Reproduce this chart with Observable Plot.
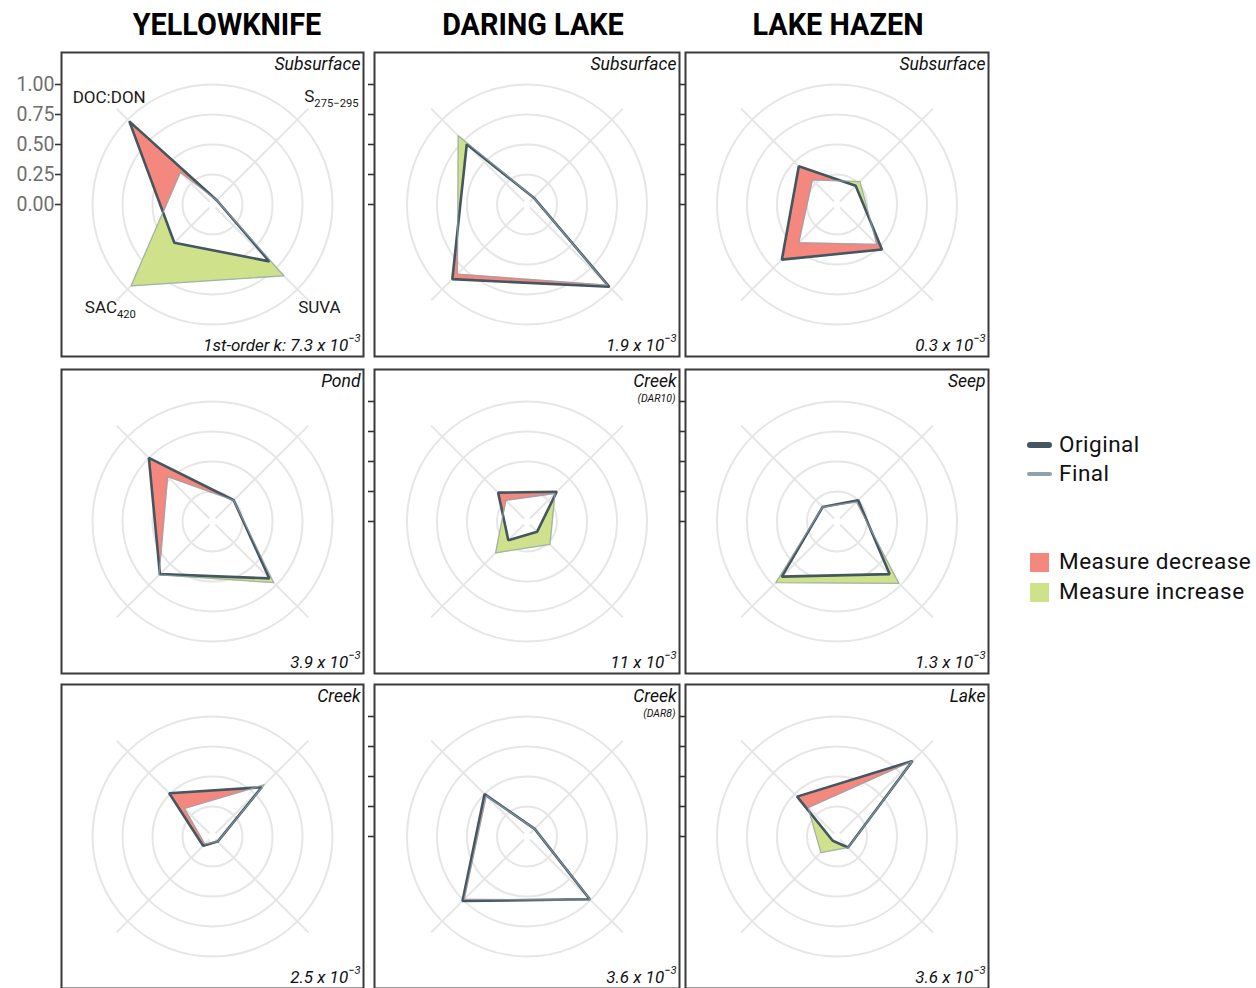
<!DOCTYPE html>
<html>
<head>
<meta charset="utf-8">
<script src="https://cdn.jsdelivr.net/npm/d3@7"></script>
<script src="https://cdn.jsdelivr.net/npm/@observablehq/plot@0.6"></script>
<style>
  html, body { margin: 0; padding: 0; background: #fff; }
  #root { position: relative; width: 1256px; height: 988px; overflow: hidden; font-family: Roboto, "Open Sans", sans-serif; color: #111; }
  .title { position: absolute; top: 6px; transform: translateX(-50%) scaleX(0.93); font: 700 31px Roboto, sans-serif; white-space: nowrap; color: #000; }
  .leg { position: absolute; font: 400 22.5px Roboto, sans-serif; white-space: nowrap; letter-spacing: 0.5px; color: #111; line-height: 1; }
  .sw { position: absolute; }
</style>
</head>
<body>
<div id="root"></div>
<script>
// ---------------- data ----------------
const sites = ["YELLOWKNIFE", "DARING LAKE", "LAKE HAZEN"];
const measures = ["DOC:DON", "S_{275-295}", "SUVA", "SAC_{420}"];
const radialTicks = [0, 0.25, 0.5, 0.75, 1];
const panelType = ["Subsurface", "Subsurface", "Subsurface", "Pond", "Creek", "Seep", "Creek", "Creek", "Lake"];
const panelSub = ["", "", "", "", "(DAR10)", "", "", "(DAR8)", ""];
const panelK = ["1st-order k: 7.3 x 10^{-3}", "1.9 x 10^{-3}", "0.3 x 10^{-3}",
                "3.9 x 10^{-3}", "11 x 10^{-3}", "1.3 x 10^{-3}",
                "2.5 x 10^{-3}", "3.6 x 10^{-3}", "3.6 x 10^{-3}"];
// values in order: DOC:DON, S275-295, SUVA, SAC420
const original = [
  [0.98, 0.05, 0.67, 0.45],
  [0.71, 0.08, 0.97, 0.88],
  [0.45, 0.22, 0.53, 0.65],
  [0.75, 0.25, 0.67, 0.62],
  [0.34, 0.35, 0.12, 0.22],
  [0.17, 0.25, 0.62, 0.65],
  [0.51, 0.58, 0.06, 0.11],
  [0.50, 0.09, 0.74, 0.76],
  [0.47, 0.89, 0.13, 0.05]
];
const final = [
  [0.38, 0.05, 0.84, 0.96],
  [0.81, 0.08, 0.95, 0.82],
  [0.29, 0.27, 0.47, 0.45],
  [0.53, 0.25, 0.72, 0.63],
  [0.25, 0.33, 0.27, 0.37],
  [0.17, 0.23, 0.73, 0.72],
  [0.33, 0.61, 0.06, 0.09],
  [0.48, 0.09, 0.75, 0.74],
  [0.34, 0.89, 0.13, 0.19]
];

// ---------------- styling / layout ----------------
const C = {
  original: "#44565f", final: "#8fa2ae",
  decrease: "#f4887e", increase: "#cfe28b",
  grid: "#e6e6e6", frame: "#3a3a3a"
};
const angles = [135, 45, -45, -135];
const labelNudge = [[0.03, 0], [0.1, 0.01], [0, 0.035], [0.04, 0.035]];
const ppu = 120; // pixels per unit radius
const colLeft = [61, 374, 685], colW = [302, 305, 303];
const rowTop = [52, 369, 684], rowH = 304;
const titleX = [227, 533, 838];

const polar = (r, a) => [r * Math.cos(a * Math.PI / 180), r * Math.sin(a * Math.PI / 180)];
function intersect(p1, p2, p3, p4) {
  const d = (p1[0] - p2[0]) * (p3[1] - p4[1]) - (p1[1] - p2[1]) * (p3[0] - p4[0]);
  const t = ((p1[0] - p3[0]) * (p3[1] - p4[1]) - (p1[1] - p3[1]) * (p3[0] - p4[0])) / d;
  return [p1[0] + t * (p2[0] - p1[0]), p1[1] + t * (p2[1] - p1[1])];
}
function ring(vals) {
  return vals.map((v, i) => { const [x, y] = polar(v, angles[i]); return {x, y}; });
}
function diffPolys(o, f) {
  const polys = [];
  for (let i = 0; i < 4; i++) {
    const j = (i + 1) % 4;
    const O0 = polar(o[i], angles[i]), O1 = polar(o[j], angles[j]);
    const F0 = polar(f[i], angles[i]), F1 = polar(f[j], angles[j]);
    const d0 = o[i] - f[i], d1 = o[j] - f[j];
    if (d0 * d1 < 0) {
      const X = intersect(O0, O1, F0, F1);
      polys.push({sign: d0, pts: [O0, X, F0]});
      polys.push({sign: d1, pts: [X, O1, F1]});
    } else if (d0 !== 0 || d1 !== 0) {
      polys.push({sign: d0 !== 0 ? d0 : d1, pts: [O0, O1, F1, F0]});
    }
  }
  return polys.flatMap((p, k) => p.pts.map(([x, y]) => ({id: k, x, y, kind: p.sign > 0 ? "decrease" : "increase"})));
}
function rich(svg) {
  d3.select(svg).selectAll("text").each(function () {
    const s = this.textContent;
    const m = s.match(/^(.*?)([_^])\{(.*)\}$/);
    if (!m) return;
    const t = d3.select(this);
    t.text(null);
    t.append("tspan").text(m[1]);
    t.append("tspan").attr("font-size", "0.66em")
      .attr("dy", m[2] === "^" ? "-0.75em" : "0.5em")
      .text(m[3].replace("-", "\u2212"));
  });
}

const root = document.getElementById("root");

sites.forEach((s, i) => {
  const d = document.createElement("div");
  d.className = "title"; d.textContent = s; d.style.left = titleX[i] + "px";
  root.appendChild(d);
});

for (let p = 0; p < 9; p++) {
  const col = p % 3, row = Math.floor(p / 3);
  const W = colW[col], H = rowH;
  const first = p === 0;
  const showTicks = !(col === 0 && row > 0);
  const mL = first ? 62 : 8;
  const xd = [-W / 2 / ppu, W / 2 / ppu], yd = [-H / 2 / ppu, H / 2 / ppu];
  const o = original[p], f = final[p];
  const diff = diffPolys(o, f);

  const marks = [];
  // grid circles
  for (const r of radialTicks.slice(1)) {
    marks.push(Plot.dot([r], {x: () => 0, y: () => 0, r: r * ppu, stroke: C.grid, strokeWidth: 2, fill: "none"}));
  }
  // spokes
  marks.push(Plot.link(angles, {
    x1: a => polar(0.035, a)[0], y1: a => polar(0.035, a)[1],
    x2: a => polar(1.13, a)[0], y2: a => polar(1.13, a)[1],
    stroke: C.grid, strokeWidth: 2
  }));
  // difference fills
  for (const kind of ["decrease", "increase"]) {
    marks.push(Plot.line(diff.filter(d => d.kind === kind), {
      x: "x", y: "y", z: "id", curve: "linear-closed",
      fill: C[kind], stroke: C[kind], strokeWidth: 0.8
    }));
  }
  // polygons: original underneath, final on top
  marks.push(Plot.line(ring(o), {x: "x", y: "y", curve: "linear-closed", stroke: C.original, strokeWidth: 2.6, strokeLinejoin: "miter"}));
  marks.push(Plot.line(ring(f), {x: "x", y: "y", curve: "linear-closed", stroke: C.final, strokeWidth: 1.3, strokeOpacity: 0.75, strokeLinejoin: "miter"}));
  // panel texts
  marks.push(Plot.text([panelType[p]], {frameAnchor: "top-right", dx: -3, dy: 5, lineAnchor: "top", text: d => d, fontStyle: "italic", fontSize: 17.5, fill: "#111"}));
  if (panelSub[p]) {
    marks.push(Plot.text([panelSub[p]], {frameAnchor: "top-right", dx: -4, dy: 25, lineAnchor: "top", text: d => d, fontStyle: "italic", fontSize: 10.5, fill: "#111"}));
  }
  marks.push(Plot.text([panelK[p]], {frameAnchor: "bottom-right", dx: -3, dy: -6, lineAnchor: "bottom", text: d => d, fontStyle: "italic", fontSize: 17, fill: "#111"}));
  // axis labels (first panel only)
  if (first) {
    marks.push(Plot.text(measures, {
      x: (d, i) => polar(1.26, angles[i])[0] + labelNudge[i][0],
      y: (d, i) => polar(1.26, angles[i])[1] + labelNudge[i][1],
      text: d => d, fontSize: 17, fill: "#1a1a1a", textAnchor: "middle"
    }));
    marks.push(Plot.text(radialTicks, {
      x: () => xd[0] - 7 / ppu, y: d => d, text: d => d.toFixed(2),
      textAnchor: "end", fontSize: 19.5, fill: "#6e6e6e", letterSpacing: "0.6px"
    }));
  }
  if (showTicks) {
    marks.push(Plot.ruleY(radialTicks, {y: d => d, x1: xd[0] - 6 / ppu, x2: xd[0], stroke: "#333", strokeWidth: 1.6}));
  }
  marks.push(Plot.frame({stroke: C.frame, strokeWidth: 2}));

  const chart = Plot.plot({
    width: W + mL, height: H,
    marginLeft: mL, marginRight: 0, marginTop: 0, marginBottom: 0,
    x: {domain: xd, axis: null},
    y: {domain: yd, axis: null},
    style: {background: "transparent", overflow: "visible", fontFamily: "Roboto, sans-serif", fontSize: "17px", color: "#111"},
    marks
  });
  rich(chart);
  chart.style.position = "absolute";
  chart.style.left = (colLeft[col] - mL) + "px";
  chart.style.top = rowTop[row] + "px";
  root.appendChild(chart);
}

// ---------------- legend ----------------
const legendLines = [
  {label: "Original", color: C.original, w: 5.5, y: 445},
  {label: "Final", color: C.final, w: 4, y: 474}
];
legendLines.forEach(l => {
  const sw = document.createElement("div");
  sw.className = "sw";
  Object.assign(sw.style, {left: "1027px", top: (l.y - l.w / 2) + "px", width: "25px", height: l.w + "px", background: l.color, borderRadius: "3px"});
  root.appendChild(sw);
  const t = document.createElement("div");
  t.className = "leg"; t.textContent = l.label;
  Object.assign(t.style, {left: "1059px", top: (l.y - 12) + "px"});
  root.appendChild(t);
});
const legendFills = [
  {label: "Measure decrease", color: C.decrease, y: 562},
  {label: "Measure increase", color: C.increase, y: 592}
];
legendFills.forEach(l => {
  const sw = document.createElement("div");
  sw.className = "sw";
  Object.assign(sw.style, {left: "1030px", top: (l.y - 9) + "px", width: "19px", height: "19px", background: l.color});
  root.appendChild(sw);
  const t = document.createElement("div");
  t.className = "leg"; t.textContent = l.label;
  Object.assign(t.style, {left: "1059px", top: (l.y - 12) + "px"});
  root.appendChild(t);
});
</script>
</body>
</html>
